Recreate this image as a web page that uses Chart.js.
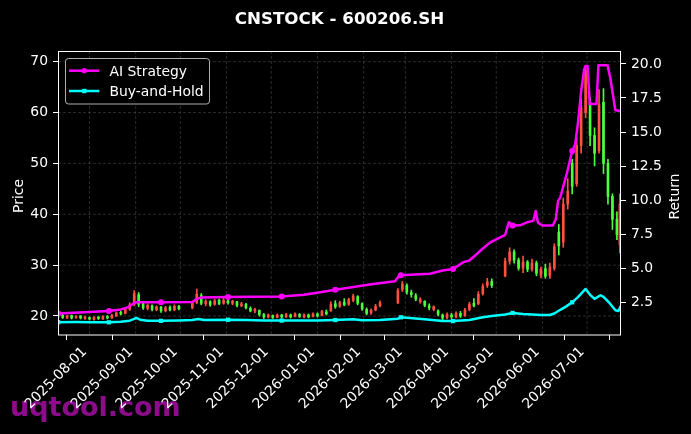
<!DOCTYPE html>
<html>
<head>
<meta charset="utf-8">
<title>CNSTOCK - 600206.SH</title>
<script src="https://cdn.jsdelivr.net/npm/chart.js@4.4.1/dist/chart.umd.min.js"></script>
<style>
  html, body { margin: 0; padding: 0; background: #000; }
  #wrap { width: 691px; height: 434px; }
</style>
</head>
<body>
<div id="wrap"><canvas id="stockChart" width="691" height="434"></canvas></div>
<script>
  'use strict';

  const chartTitle = 'CNSTOCK - 600206.SH';
  const watermarkText = 'uqtool.com';
  const aiLabel = 'AI Strategy';
  const holdLabel = 'Buy-and-Hold';

  // x values are days counted from 2025-07-01
  const tickLabels = ['2025-08-01', '2025-09-01', '2025-10-01', '2025-11-01', '2025-12-01', '2026-01-01',
    '2026-02-01', '2026-03-01', '2026-04-01', '2026-05-01', '2026-06-01', '2026-07-01'];
  const priceTicks = [20, 30, 40, 50, 60, 70];
  const returnTicks = [2.5, 5, 7.5, 10, 12.5, 15, 17.5, 20];

  const candleDays = [10, 13, 16, 19, 22, 25, 28, 31, 34, 37, 40, 43, 46, 49, 52, 55, 58, 61, 64, 67,
    70, 73, 76, 79, 82, 85, 88, 91, 100, 103, 106, 109, 112, 115, 118, 121, 124, 127, 130, 133,
    136, 139, 142, 145, 148, 151, 154, 157, 160, 163, 166, 169, 172, 175, 178, 181, 184, 187, 190, 193,
    196, 199, 202, 205, 208, 211, 214, 217, 220, 223, 226, 238, 241, 244, 247, 250, 253, 256, 259, 262,
    265, 268, 271, 274, 277, 280, 283, 286, 289, 292, 295, 298, 301, 310, 313, 316, 319, 322, 325, 328,
    331, 334, 337, 340, 343, 346, 349, 352, 355, 358, 361, 364, 367, 370, 373, 376, 379, 382, 385, 387];
  const opens = [19.8, 20.2, 19.6, 20.1, 19.7, 20.0, 19.5, 19.7, 19.3, 19.8,
    19.4, 19.9, 19.6, 20.0, 20.7, 20.5, 21.3, 22.2, 24.2, 22.4,
    21.5, 22.0, 21.2, 21.7, 21.0, 21.7, 21.2, 21.9, 21.6, 22.6,
    24.0, 22.4, 22.8, 22.3, 23.1, 22.5, 23.0, 22.5, 22.8, 22.0,
    22.3, 21.5, 21.0, 21.1, 20.3, 19.8, 20.1, 19.7, 20.2, 19.8,
    20.2, 19.9, 20.3, 19.8, 20.2, 19.9, 20.4, 20.1, 20.8, 21.0,
    22.4, 21.9, 22.7, 22.3, 23.1, 23.8, 22.4, 21.3, 20.6, 21.2,
    22.0, 22.6, 25.2, 26.0, 24.6, 24.0, 22.8, 22.9, 22.0, 21.3,
    21.0, 20.2, 19.7, 20.2, 19.8, 20.5, 20.1, 21.3, 22.5, 22.4,
    24.4, 26.0, 26.8, 27.9, 30.8, 32.6, 31.0, 29.4, 30.6, 29.2,
    30.4, 28.0, 29.3, 28.0, 29.4, 36.5, 34.5, 42.0, 50.0, 46.0,
    53.5, 60.0, 62.0, 55.5, 52.5, 62.0, 50.0, 43.5, 39.0, 34.0];
  const highs = [20.3, 20.3, 20.2, 20.2, 20.1, 20.1, 20.0, 19.8, 19.9, 19.9,
    20.1, 20.1, 20.3, 20.8, 21.0, 21.7, 22.6, 25.0, 24.6, 22.7,
    22.4, 22.2, 22.0, 21.9, 21.9, 22.0, 22.2, 22.1, 22.9, 25.3,
    24.4, 23.2, 23.0, 23.3, 23.3, 23.5, 23.4, 23.1, 22.9, 22.7,
    22.5, 21.8, 21.5, 21.2, 20.5, 20.4, 20.2, 20.4, 20.3, 20.5,
    20.4, 20.6, 20.5, 20.4, 20.4, 20.6, 20.6, 21.1, 21.2, 22.8,
    23.0, 22.9, 23.4, 23.5, 24.3, 24.0, 22.6, 21.6, 21.4, 22.3,
    23.0, 25.4, 26.8, 26.3, 25.1, 24.4, 23.6, 23.0, 22.4, 22.0,
    21.2, 20.4, 20.6, 20.5, 20.8, 20.9, 21.5, 22.7, 23.4, 24.8,
    26.3, 27.4, 27.3, 31.4, 33.4, 33.0, 31.4, 31.8, 30.9, 31.2,
    30.8, 29.6, 30.2, 30.4, 34.2, 38.0, 43.2, 47.0, 50.8, 55.0,
    62.7, 69.3, 63.0, 57.0, 64.5, 64.7, 50.8, 44.0, 40.5, 44.0];
  const lows = [19.6, 19.5, 19.5, 19.4, 19.5, 19.4, 19.3, 19.2, 19.2, 19.3,
    19.3, 19.4, 19.5, 19.9, 20.2, 20.4, 21.1, 22.0, 21.8, 21.3,
    21.2, 21.0, 21.0, 20.7, 20.8, 21.0, 21.0, 21.2, 21.4, 22.4,
    22.2, 22.0, 21.9, 22.1, 22.2, 22.3, 22.3, 22.2, 21.8, 21.8,
    21.4, 20.8, 20.6, 20.0, 19.5, 19.6, 19.5, 19.6, 19.6, 19.7,
    19.6, 19.8, 19.7, 19.6, 19.6, 19.8, 19.8, 20.0, 20.2, 20.9,
    21.5, 21.7, 22.0, 22.1, 22.8, 22.2, 21.1, 20.2, 20.3, 21.0,
    21.8, 22.4, 24.8, 24.3, 23.7, 23.0, 22.5, 21.8, 21.2, 21.0,
    20.0, 19.2, 19.4, 19.5, 19.6, 19.7, 19.9, 21.0, 21.8, 22.2,
    24.1, 25.6, 25.6, 27.7, 30.2, 30.4, 29.0, 28.5, 28.7, 28.8,
    27.9, 27.5, 27.4, 27.4, 29.0, 32.0, 33.5, 41.0, 44.0, 45.5,
    52.0, 59.0, 53.5, 49.5, 52.0, 48.0, 42.0, 37.0, 35.0, 32.4];
  const closes = [20.1, 19.7, 20.0, 19.6, 19.9, 19.6, 19.8, 19.4, 19.7, 19.5,
    19.9, 19.6, 20.1, 20.6, 20.4, 21.4, 22.2, 24.4, 22.3, 21.6,
    22.1, 21.3, 21.8, 21.0, 21.6, 21.2, 21.9, 21.4, 22.5, 24.3,
    22.5, 22.9, 22.2, 23.0, 22.4, 23.1, 22.6, 22.9, 22.1, 22.4,
    21.6, 21.0, 21.3, 20.3, 19.8, 20.2, 19.7, 20.2, 19.8, 20.3,
    19.8, 20.4, 19.9, 20.2, 19.8, 20.4, 20.0, 20.9, 20.4, 22.3,
    21.8, 22.6, 22.2, 23.2, 23.9, 22.5, 21.4, 20.5, 21.1, 21.9,
    22.6, 25.0, 26.3, 24.7, 24.2, 23.3, 23.3, 22.1, 21.6, 21.8,
    20.3, 19.6, 20.3, 19.8, 20.5, 20.0, 21.2, 22.3, 22.0, 24.3,
    25.8, 26.7, 26.0, 30.8, 32.6, 31.0, 29.4, 30.6, 29.2, 30.4,
    28.4, 29.2, 27.8, 29.6, 33.6, 33.8, 42.0, 44.5, 45.5, 53.5,
    61.0, 68.2, 55.5, 52.0, 61.5, 50.0, 43.5, 39.0, 36.0, 42.0];

  const aiDays = [10, 31, 44, 52, 57, 60, 62, 79, 100, 103, 106, 124, 140, 160, 175, 188, 196, 206, 219, 236,
    238.5, 240, 259.5, 268, 275, 282, 286, 291, 295, 300, 307, 310, 312.5, 315, 320, 325, 329, 330.5, 332, 335,
    342, 344, 345.5, 347, 351.5, 355, 357, 359, 361, 363, 364, 365.3, 366.8, 371.3, 372.6, 378.7, 380.5, 384, 387.7];
  const aiReturns = [1.67, 1.78, 1.86, 1.98, 2.15, 2.38, 2.5, 2.5, 2.52, 2.75, 2.85, 2.89, 2.9, 2.92, 3.05, 3.28, 3.42, 3.58, 3.8, 4.05,
    4.4, 4.48, 4.6, 4.84, 4.95, 5.45, 5.57, 6.05, 6.45, 6.9, 7.28, 7.45, 8.38, 8.14, 8.15, 8.38, 8.5, 9.2, 8.35, 8.14,
    8.14, 8.6, 9.95, 10.2, 12.0, 13.6, 14.1, 15.8, 18.0, 19.6, 19.85, 19.85, 17.05, 17.05, 19.9, 19.9, 19.0, 16.6, 16.55];

  const holdDays = [10, 22, 31, 44, 52, 58, 61, 62.5, 65, 70, 79, 91, 100, 104, 108, 124, 136, 148, 160, 184,
    196, 208, 214, 226, 238, 240, 244, 256, 268, 275, 286, 295, 301, 310, 315, 322, 334, 340, 343, 347,
    351, 355, 359, 364, 367, 370, 374, 376, 380, 384, 386, 387.7];
  const holdReturns = [1.04, 1.05, 1.04, 1.03, 1.08, 1.15, 1.28, 1.36, 1.22, 1.15, 1.14, 1.17, 1.2, 1.28, 1.2, 1.22, 1.2, 1.16, 1.16, 1.16,
    1.2, 1.26, 1.18, 1.2, 1.3, 1.4, 1.36, 1.26, 1.12, 1.12, 1.2, 1.4, 1.5, 1.6, 1.72, 1.64, 1.57, 1.57, 1.68, 1.95,
    2.2, 2.5, 2.9, 3.48, 3.05, 2.75, 3.02, 2.9, 2.45, 1.92, 1.86, 2.25];

  // every 25th trading day carries a marker
  const markerDays = [10, 44, 79, 124, 160, 196, 240, 275, 315, 355];

  const upColor = '#ff5040';
  const downColor = '#4cff3c';
  const aiColor = '#ff00ff';
  const holdColor = '#00ffff';
  const fontFamily = '"DejaVu Sans", sans-serif';

  const dayZero = Date.UTC(2025, 6, 1);
  function dayOf(label) {
    const [y, m, d] = label.split('-').map(Number);
    return (Date.UTC(y, m - 1, d) - dayZero) / 86400000;
  }
  const tickDays = tickLabels.map(dayOf);

  const candleColor = (ctx) => {
    const i = ctx.dataIndex;
    return closes[i] >= opens[i] ? upColor : downColor;
  };
  const markerRadius = (ctx) => (ctx.raw && markerDays.includes(ctx.raw.x) ? 3 : 0);

  const decorations = {
    id: 'decorations',
    beforeDraw(chart) {
      const ctx = chart.ctx;
      ctx.save();
      ctx.fillStyle = '#000';
      ctx.fillRect(0, 0, chart.width, chart.height);
      ctx.font = 'bold 27px ' + fontFamily;
      ctx.fillStyle = '#8c0c8c';
      ctx.textAlign = 'left';
      ctx.textBaseline = 'alphabetic';
      ctx.fillText(watermarkText, 10, 416);
      ctx.restore();
    },
    beforeDatasetsDraw(chart) {
      const { ctx, chartArea: a, scales } = chart;
      ctx.save();
      ctx.strokeStyle = 'rgba(128, 128, 128, 0.55)';
      ctx.lineWidth = 0.6;
      ctx.setLineDash([3, 2]);
      ctx.beginPath();
      tickDays.forEach(d => {
        const x = scales.x.getPixelForValue(d);
        ctx.moveTo(x, a.top);
        ctx.lineTo(x, a.bottom);
      });
      priceTicks.forEach(v => {
        const y = scales.y.getPixelForValue(v);
        ctx.moveTo(a.left, y);
        ctx.lineTo(a.right, y);
      });
      ctx.stroke();
      ctx.restore();
    },
    afterDraw(chart) {
      const { ctx, chartArea: a, scales } = chart;
      ctx.save();

      // frame
      ctx.strokeStyle = '#fff';
      ctx.lineWidth = 1;
      ctx.strokeRect(a.left + 0.5, a.top + 0.5, a.right - a.left - 1, a.bottom - a.top - 0.5);

      // title
      ctx.fillStyle = '#fff';
      ctx.font = 'bold 16.7px ' + fontFamily;
      ctx.textAlign = 'center';
      ctx.textBaseline = 'alphabetic';
      ctx.fillText(chartTitle, 339.5, 24.2);

      // date labels, rotated 45 degrees and right-aligned to the tick
      ctx.font = '13.9px ' + fontFamily;
      ctx.textAlign = 'right';
      tickDays.forEach((d, i) => {
        const x = scales.x.getPixelForValue(d);
        ctx.save();
        ctx.translate(x - 2.3, a.bottom + 17.2);
        ctx.rotate(-Math.PI / 4);
        ctx.fillText(tickLabels[i], 0, 0);
        ctx.restore();
      });

      // axis titles
      ctx.textAlign = 'center';
      ctx.save();
      ctx.translate(23.3, 196);
      ctx.rotate(-Math.PI / 2);
      ctx.fillText('Price', 0, 0);
      ctx.restore();
      ctx.save();
      ctx.translate(679.3, 196.5);
      ctx.rotate(-Math.PI / 2);
      ctx.fillText('Return', 0, 0);
      ctx.restore();

      // legend
      ctx.beginPath();
      ctx.roundRect(65.5, 58.5, 144, 45.5, 3);
      ctx.fillStyle = 'rgba(0, 0, 0, 0.8)';
      ctx.fill();
      ctx.strokeStyle = 'rgba(204, 204, 204, 0.85)';
      ctx.stroke();

      const entries = [
        { label: aiLabel, color: aiColor, y: 70.7, square: false, base: 75.7 },
        { label: holdLabel, color: holdColor, y: 91, square: true, base: 96 }
      ];
      entries.forEach(e => {
        ctx.strokeStyle = e.color;
        ctx.fillStyle = e.color;
        ctx.lineWidth = 2.5;
        ctx.beginPath();
        ctx.moveTo(69, e.y);
        ctx.lineTo(99.3, e.y);
        ctx.stroke();
        if (e.square) {
          ctx.fillRect(84.3 - 2.2, e.y - 2.2, 4.4, 4.4);
        } else {
          ctx.beginPath();
          ctx.arc(84.3, e.y, 2.6, 0, Math.PI * 2);
          ctx.fill();
        }
        ctx.fillStyle = '#fff';
        ctx.textAlign = 'left';
        ctx.fillText(e.label, 109.5, e.base);
      });

      ctx.restore();
    }
  };

  Chart.defaults.font.family = fontFamily;
  Chart.defaults.color = '#fff';

  new Chart(document.getElementById('stockChart'), {
    type: 'bar',
    data: {
      datasets: [
        {
          type: 'line',
          label: aiLabel,
          data: aiDays.map((d, i) => ({ x: d, y: aiReturns[i] })),
          yAxisID: 'y2',
          borderColor: aiColor,
          backgroundColor: aiColor,
          borderWidth: 2.5,
          borderJoinStyle: 'round',
          pointStyle: 'circle',
          pointRadius: markerRadius,
          pointHoverRadius: 0,
          pointBorderWidth: 0,
          tension: 0,
          order: 0
        },
        {
          type: 'line',
          label: holdLabel,
          data: holdDays.map((d, i) => ({ x: d, y: holdReturns[i] })),
          yAxisID: 'y2',
          borderColor: holdColor,
          backgroundColor: holdColor,
          borderWidth: 2.5,
          borderJoinStyle: 'round',
          pointStyle: 'rect',
          pointRadius: markerRadius,
          pointHoverRadius: 0,
          pointBorderWidth: 0,
          tension: 0,
          order: 0
        },
        {
          label: 'Body',
          data: candleDays.map((d, i) => ({ x: d, y: [opens[i], closes[i]] })),
          yAxisID: 'y',
          backgroundColor: candleColor,
          borderWidth: 0,
          barThickness: 2,
          grouped: false,
          order: 1
        },
        {
          label: 'Wick',
          data: candleDays.map((d, i) => ({ x: d, y: [lows[i], highs[i]] })),
          yAxisID: 'y',
          backgroundColor: candleColor,
          borderWidth: 0,
          barThickness: 1,
          grouped: false,
          order: 2
        }
      ]
    },
    options: {
      responsive: false,
      animation: false,
      layout: { padding: { top: 51, left: 0, right: 0, bottom: 0 } },
      plugins: {
        legend: { display: false },
        tooltip: { enabled: false },
        title: { display: false }
      },
      scales: {
        x: {
          type: 'linear',
          min: 9.85,
          max: 387.75,
          offset: false,
          afterBuildTicks: (scale) => { scale.ticks = tickDays.map(v => ({ value: v })); },
          afterFit: (scale) => { scale.height = 99; },
          ticks: { display: false },
          grid: { drawOnChartArea: false, drawTicks: true, tickLength: 5, tickColor: '#fff', tickWidth: 1 },
          border: { display: false }
        },
        y: {
          type: 'linear',
          position: 'left',
          min: 16.26,
          max: 72.1,
          afterBuildTicks: (scale) => { scale.ticks = priceTicks.map(v => ({ value: v })); },
          afterFit: (scale) => { scale.width = 58; },
          ticks: { color: '#fff', padding: 5, font: { size: 13.9 }, callback: (v) => String(v) },
          grid: { drawOnChartArea: false, drawTicks: true, tickLength: 5, tickColor: '#fff', tickWidth: 1 },
          border: { display: false }
        },
        y2: {
          type: 'linear',
          position: 'right',
          min: 0.1,
          max: 20.95,
          afterBuildTicks: (scale) => { scale.ticks = returnTicks.map(v => ({ value: v })); },
          afterFit: (scale) => { scale.width = 70; },
          ticks: { color: '#fff', padding: 5, font: { size: 13.9 }, callback: (v) => v.toFixed(1) },
          grid: { drawOnChartArea: false, drawTicks: true, tickLength: 5, tickColor: '#fff', tickWidth: 1 },
          border: { display: false }
        }
      }
    },
    plugins: [decorations]
  });
</script>
</body>
</html>
